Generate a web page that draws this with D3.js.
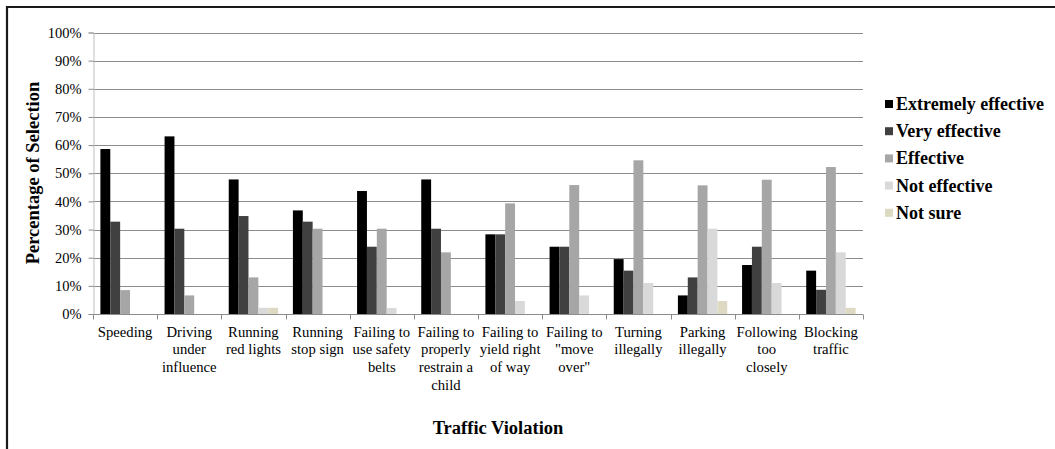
<!DOCTYPE html>
<html>
<head>
<meta charset="utf-8">
<script src="https://cdn.jsdelivr.net/npm/d3@7.9.0/dist/d3.min.js"></script>
<style>
  body { margin: 0; background: #fff; }
  svg { display: block; font-family: "Liberation Serif", "Times New Roman", serif; }
</style>
</head>
<body>
<svg id="chart" width="1055" height="449"></svg>
<script>
// categories (line breaks as in the picture)
const violations = [
  "Speeding", "Driving\nunder\ninfluence", "Running\nred lights", "Running\nstop sign",
  "Failing to\nuse safety\nbelts", "Failing to\nproperly\nrestrain a\nchild", "Failing to\nyield right\nof way",
  "Failing to\n\"move\nover\"", "Turning\nillegally", "Parking\nillegally", "Following\ntoo\nclosely", "Blocking\ntraffic"
];
const seriesNames = ["Extremely effective", "Very effective", "Effective", "Not effective", "Not sure"];
const seriesColors = ["#000000", "#404040", "#a6a6a6", "#d9d9d9", "#ddd9c3"];

// values in %
const extremelyEffective = [58.6, 63.1, 47.8, 36.8, 43.7, 47.8, 28.3, 23.9, 19.5, 6.6, 17.4, 15.4];
const veryEffective      = [32.8, 30.3, 34.8, 32.8, 23.9, 30.3, 28.3, 23.9, 15.4, 13.0, 23.9, 8.6];
const effective          = [8.5, 6.6, 13.0, 30.3, 30.3, 21.9, 39.3, 45.8, 54.6, 45.7, 47.7, 52.2];
const notEffective       = [0, 0, 2.2, 0, 2.1, 0, 4.6, 6.6, 11.0, 30.3, 11.0, 21.9];
const notSure            = [0, 0, 2.2, 0, 0, 0, 0, 0, 0, 4.6, 0, 2.2];
const yTicks = [0, 10, 20, 30, 40, 50, 60, 70, 80, 90, 100];

const series = [extremelyEffective, veryEffective, effective, notEffective, notSure];

const svg = d3.select("#chart");
const plotLeft = 93, plotTop = 32.5, plotRight = 863, plotBottom = 314;

// outer frame (left and top edges)
svg.append("path")
  .attr("d", "M7,449V7H1055")
  .attr("fill", "none")
  .attr("stroke", "#1a1a1a")
  .attr("stroke-width", 2.2);

const x0 = d3.scaleBand().domain(d3.range(violations.length)).range([plotLeft, plotRight]);
const gap = x0.bandwidth() * 1.5 / 6.5;
const x1 = d3.scaleBand().domain(d3.range(seriesNames.length)).range([gap / 2, x0.bandwidth() - gap / 2]);
const y = d3.scaleLinear().domain([0, 100]).range([plotBottom, plotTop]);

// gridlines
svg.append("g")
  .selectAll("line")
  .data(yTicks.filter(d => d > 0))
  .join("line")
  .attr("x1", plotLeft).attr("x2", plotRight)
  .attr("y1", d => Math.round(y(d)) + 0.5).attr("y2", d => Math.round(y(d)) + 0.5)
  .attr("stroke", "#8c8c8c");

// y axis
const yAxis = svg.append("g")
  .attr("transform", `translate(${plotLeft + 0.5},0)`)
  .call(d3.axisLeft(y).tickValues(yTicks).tickFormat(d => d + "%").tickSize(5).tickPadding(7));
yAxis.select(".domain").attr("stroke", "#bfbfbf");
yAxis.selectAll(".tick line").attr("stroke", "#8c8c8c");
yAxis.selectAll("text")
  .attr("font-family", "Liberation Serif")
  .attr("font-size", 14.5)
  .attr("fill", "#000");

// bars
const groups = svg.append("g")
  .selectAll("g")
  .data(violations)
  .join("g")
  .attr("transform", (d, i) => `translate(${x0(i)},0)`);

groups.selectAll("rect")
  .data((d, i) => series.map((s, k) => ({ k, v: s[i] })))
  .join("rect")
  .attr("x", d => x1(d.k))
  .attr("width", x1.bandwidth())
  .attr("y", d => y(d.v))
  .attr("height", d => y(0) - y(d.v))
  .attr("fill", d => seriesColors[d.k]);

// x axis
const xAxis = svg.append("g").attr("transform", `translate(0,${Math.round(plotBottom) + 0.5})`);
xAxis.append("line")
  .attr("x1", plotLeft).attr("x2", plotRight)
  .attr("stroke", "#8c8c8c");
xAxis.selectAll(".tk")
  .data(d3.range(violations.length + 1))
  .join("line")
  .attr("class", "tk")
  .attr("x1", i => Math.round(plotLeft + i * x0.step()) + 0.5)
  .attr("x2", i => Math.round(plotLeft + i * x0.step()) + 0.5)
  .attr("y1", 0).attr("y2", 5)
  .attr("stroke", "#8c8c8c");

const labels = xAxis.selectAll(".lbl")
  .data(violations)
  .join("text")
  .attr("class", "lbl")
  .attr("text-anchor", "middle")
  .attr("font-size", 14.7)
  .attr("transform", (d, i) => `translate(${x0(i) + x0.bandwidth() / 2},0)`);
labels.selectAll("tspan")
  .data(d => d.split("\n"))
  .join("tspan")
  .attr("x", 0)
  .attr("y", (d, j) => 22 + j * 17.8)
  .text(d => d);

// axis titles
svg.append("text")
  .attr("x", 498).attr("y", 434)
  .attr("text-anchor", "middle")
  .attr("font-weight", "bold")
  .attr("font-size", 18.5)
  .text("Traffic Violation");

svg.append("text")
  .attr("transform", "translate(39,173) rotate(-90)")
  .attr("text-anchor", "middle")
  .attr("font-weight", "bold")
  .attr("font-size", 18.5)
  .text("Percentage of Selection");

// legend
const legend = svg.append("g")
  .selectAll("g")
  .data(seriesNames)
  .join("g")
  .attr("transform", (d, i) => `translate(885,${104 + i * 27.2})`);
legend.append("rect")
  .attr("x", 0).attr("y", -4)
  .attr("width", 8).attr("height", 8)
  .attr("fill", (d, i) => seriesColors[i]);
legend.append("text")
  .attr("x", 11).attr("y", 6)
  .attr("font-weight", "bold")
  .attr("font-size", 18)
  .text(d => d);
</script>
</body>
</html>
